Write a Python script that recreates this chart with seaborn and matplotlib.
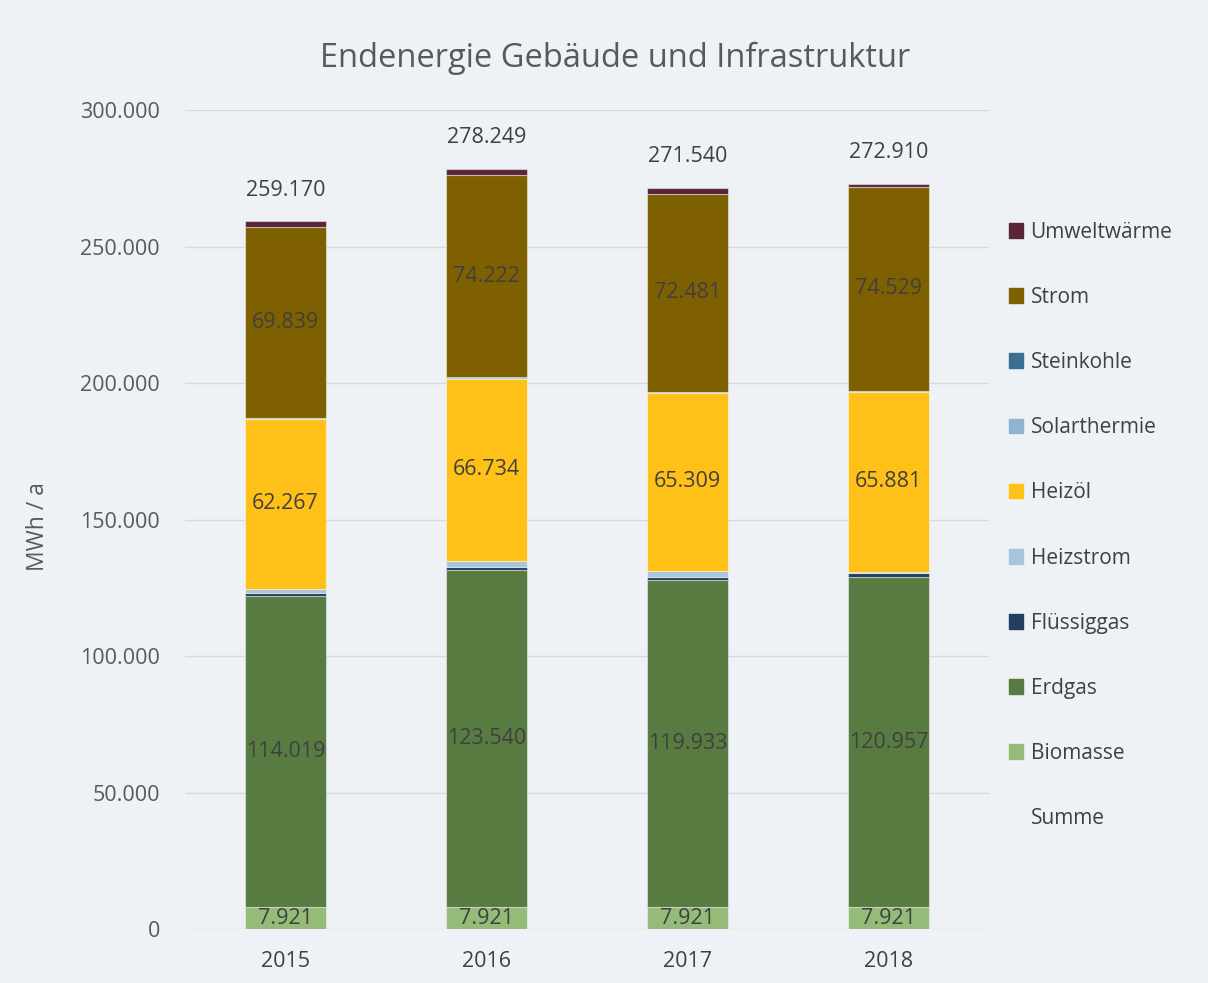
import numpy as np
import pandas as pd
import matplotlib
matplotlib.use("Agg")
import matplotlib.pyplot as plt
import matplotlib.patches as mpatches
import seaborn as sns

# Daten (MWh / a)
years = ["2015", "2016", "2017", "2018"]
biomasse = [7921, 7921, 7921, 7921]
erdgas = [114019, 123540, 119933, 120957]
fluessiggas = [1250, 1300, 1200, 1350]
heizstrom = [1450, 2100, 2080, 700]
heizoel = [62267, 66734, 65309, 65881]
solarthermie = [300, 300, 300, 280]
steinkohle = [150, 130, 120, 90]
strom = [69839, 74222, 72481, 74529]
umweltwaerme = [1974, 2002, 2116, 1202]
summe = [259170, 278249, 271540, 272910]

series = [
    ("Biomasse", biomasse, "#94BB78", True),
    ("Erdgas", erdgas, "#587B42", True),
    ("Flüssiggas", fluessiggas, "#223F5F", False),
    ("Heizstrom", heizstrom, "#A8C5DC", False),
    ("Heizöl", heizoel, "#FFC118", True),
    ("Solarthermie", solarthermie, "#8DB4D0", False),
    ("Steinkohle", steinkohle, "#3B6E8F", False),
    ("Strom", strom, "#7F6000", True),
    ("Umweltwärme", umweltwaerme, "#5A2637", False),
]

sns.set_theme(style="white")
plt.rcParams["font.family"] = ["Open Sans", "DejaVu Sans"]

bg = "#EEF2F6"
fig = plt.figure(figsize=(12.08, 9.83), dpi=100, facecolor=bg)
ax = fig.add_axes([0.1531, 0.0549, 0.6656, 0.8332], facecolor=bg)


def fmt(v):
    return f"{v:,.0f}".replace(",", ".")


bottom = np.zeros(len(years))
handles = []
for name, vals, color, labelled in series:
    df = pd.DataFrame({"Jahr": years, "Wert": vals})
    sns.barplot(data=df, x="Jahr", y="Wert", color=color, width=0.4,
                bottom=bottom, edgecolor=(1, 1, 1, 0.45), linewidth=0.8,
                saturation=1, errorbar=None, ax=ax)
    if labelled:
        for i, v in enumerate(vals):
            ax.text(i, bottom[i] + v / 2, fmt(v), ha="center", va="center",
                    fontsize=15.5, color="#404040")
    bottom = bottom + np.array(vals)
    handles.append(mpatches.Patch(color=color, label=name))

# Summenbeschriftung
for i, v in enumerate(summe):
    ax.text(i, v + 11500, fmt(v), ha="center", va="center",
            fontsize=15.5, color="#404040")

ax.set_ylim(0, 300000)
ax.set_xlim(-0.5, 3.5)
ax.set_yticks(np.arange(0, 300001, 50000))
ax.set_yticklabels([fmt(t) for t in np.arange(0, 300001, 50000)])
ax.tick_params(axis="y", labelsize=15.5, labelcolor="#595959", length=0, pad=18)
ax.tick_params(axis="x", labelsize=15.5, labelcolor="#404040", length=0, pad=16)
ax.set_xlabel("")
ax.set_ylabel("MWh / a", fontsize=16.5, color="#595959")
ax.yaxis.set_label_coords(-0.168, 0.491)
ax.yaxis.grid(True, color="#D9D9D9", linewidth=1)
ax.set_axisbelow(True)
for s in ax.spines.values():
    s.set_visible(False)

fig.text(615 / 1208, 1 - 58 / 983, "Endenergie Gebäude und Infrastruktur",
         ha="center", va="center", fontsize=23.5, color="#595959")

handles = handles[::-1]
handles.append(mpatches.Patch(facecolor="none", edgecolor="none", label="Summe"))
fig.legend(handles=handles, loc="upper left",
           bbox_to_anchor=(990 / 1208, 1 - 203 / 983), frameon=False,
           fontsize=15, labelcolor="#404040", handlelength=0.7,
           handleheight=0.7, handletextpad=0.35, labelspacing=2.12)

fig.savefig("out.png", dpi=100, facecolor=bg)
